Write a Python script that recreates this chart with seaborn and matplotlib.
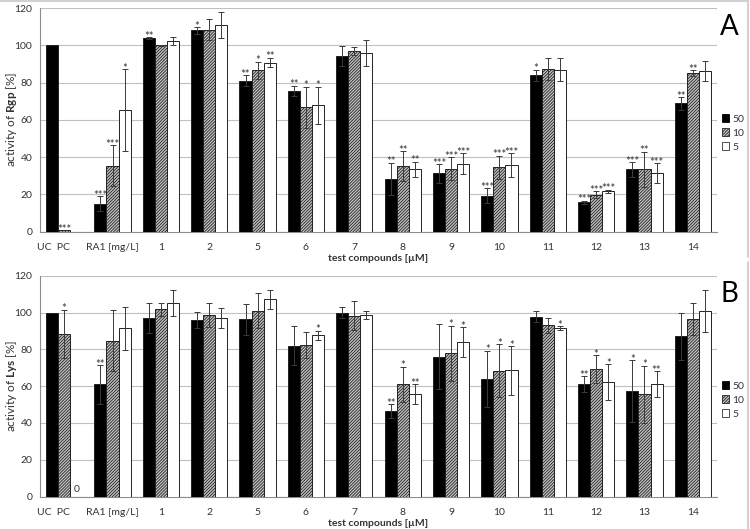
import numpy as np
import pandas as pd
import matplotlib
matplotlib.use("Agg")
import matplotlib.pyplot as plt
import matplotlib.patches as mpatches
from matplotlib.container import BarContainer
from matplotlib.lines import Line2D
import seaborn as sns

# ---------------- data ----------------
groups = ["UC  PC", "RA1 [mg/L]", "1", "2", "5", "6", "7", "8", "9", "10", "11", "12", "13", "14"]
concs = ["50", "10", "5"]

# Panel A: activity of Rgp [%]
rgp_50 = [100, 15, 104, 108, 81, 75.5, 94.2, 28.4, 31.2, 19.3, 83.8, 15.6, 33.3, 68.8]
rgp_10 = [0.6, 35.2, 100.1, 108.3, 86.6, 66.8, 96.9, 35.0, 33.6, 34.4, 87.3, 19.8, 33.3, 85.1]
rgp_5 = [0, 65.1, 102.2, 110.8, 90.7, 67.7, 95.6, 33.5, 36.5, 35.6, 86.9, 21.5, 31.3, 86.2]
rgp_err_50 = [np.nan, 4.0, 0.5, 1.8, 2.8, 2.8, 5.4, 8.6, 5.0, 3.8, 3.0, 1.0, 4.0, 3.3]
rgp_err_10 = [np.nan, 11.0, 0.3, 5.7, 4.5, 11.0, 2.0, 8.0, 6.2, 6.4, 5.7, 2.0, 9.5, 1.6]
rgp_err_5 = [np.nan, 22.0, 2.0, 7.0, 2.6, 10.0, 7.0, 4.0, 5.4, 6.3, 6.0, 1.0, 5.4, 5.6]
rgp_sig_50 = ["", "***", "**", "*", "**", "**", "", "**", "***", "***", "*", "***", "***", "**"]
rgp_sig_10 = ["***", "***", "", "", "*", "*", "", "**", "***", "***", "", "***", "**", "**"]
rgp_sig_5 = ["", "*", "", "", "**", "*", "", "**", "***", "***", "", "***", "***", ""]

# Panel B: activity of Lys [%]
lys_50 = [100, 61, 97, 95.8, 96.2, 81.9, 99.9, 46.5, 76.0, 63.9, 97.7, 61.2, 57.4, 87.1]
lys_10 = [88.5, 84.7, 101.8, 98.6, 101.0, 82.2, 98.2, 61.0, 77.9, 68.4, 93.0, 69.3, 55.6, 96.5]
lys_5 = [0, 91.4, 105.3, 97.2, 107.1, 87.6, 98.6, 55.6, 83.8, 68.6, 91.6, 62.1, 61.0, 100.8]
lys_err_50 = [np.nan, 10.5, 8.0, 4.3, 8.5, 10.5, 3.0, 3.8, 17.7, 15.4, 3.0, 4.3, 16.8, 12.8]
lys_err_10 = [13.0, 16.6, 3.6, 6.3, 9.4, 7.0, 7.8, 9.6, 15.0, 14.3, 4.2, 7.6, 15.4, 8.7]
lys_err_5 = [np.nan, 11.6, 7.0, 5.4, 5.0, 2.5, 2.0, 5.4, 8.1, 13.2, 1.1, 9.8, 7.0, 11.4]
lys_sig_50 = ["", "**", "", "", "", "", "", "**", "", "*", "", "**", "*", ""]
lys_sig_10 = ["*", "", "", "", "", "", "", "*", "*", "*", "", "*", "*", ""]
lys_sig_5 = ["0", "", "", "", "", "*", "", "**", "*", "*", "*", "*", "**", ""]

yticks = [0, 20, 40, 60, 80, 100, 120]

# ---------------- style ----------------
sns.set_theme(style="white")
plt.rcParams["font.family"] = ["Lato", "DejaVu Sans"]
plt.rcParams["mathtext.fontset"] = "custom"
plt.rcParams["mathtext.rm"] = "Lato"
plt.rcParams["mathtext.bf"] = "Lato:bold"
plt.rcParams["hatch.linewidth"] = 0.6

GRID = "#c0c0c0"
AX = "#8c8c8c"
TXT = "#333333"
HATCH = "///////////"

fig = plt.figure(figsize=(7.5, 5.29), dpi=100)
W, H = 750, 529


def fax(x0, y0, x1, y1):
    return fig.add_axes([x0 / W, 1 - y1 / H, (x1 - x0) / W, (y1 - y0) / H])


axA = fax(40, 8, 717, 231.5)
axB = fax(40, 275.7, 717, 496.5)


def panel(ax, v50, v10, v5, e50, e10, e5, s50, s10, s5, ylab, letter, leg_y):
    df = pd.DataFrame({
        "compound": groups * 3,
        "conc": [concs[0]] * len(groups) + [concs[1]] * len(groups) + [concs[2]] * len(groups),
        "value": list(v50) + list(v10) + list(v5),
    })
    sns.barplot(data=df, x="compound", y="value", hue="conc", order=groups,
                hue_order=concs, palette={"50": "black", "10": "#c4c4c4", "5": "white"},
                width=0.75, saturation=1, errorbar=None, edgecolor="#222222",
                linewidth=0.7, legend=False, ax=ax, zorder=3)
    errs = [e50, e10, e5]
    sigs = [s50, s10, s5]
    bar_conts = [c for c in ax.containers if isinstance(c, BarContainer)]
    for k, cont in enumerate(bar_conts):
        for i, bar in enumerate(cont.patches):
            if k == 1:
                bar.set_hatch(HATCH)
            xc = bar.get_x() + bar.get_width() / 2
            h = bar.get_height()
            e = errs[k][i]
            top = h
            if not np.isnan(e):
                ax.errorbar(xc, h, yerr=e, fmt="none", ecolor="#3a3a3a",
                            elinewidth=0.7, capsize=2, capthick=0.7, zorder=4)
                top = h + e
            s = sigs[k][i]
            if s == "0":
                ax.text(xc, h + 1.5, s, ha="center", va="bottom", fontsize=7.5,
                        color=TXT, zorder=5)
            elif s:
                ax.text(xc, top - 2.5, s, ha="center", va="bottom", fontsize=8,
                        color=TXT, zorder=5)

    ax.set_ylim(0, 120)
    ax.set_xlim(-0.5, len(groups) - 0.5)
    ax.set_yticks(yticks)
    ax.set_yticklabels([str(t) for t in yticks], fontsize=7.5, color=TXT)
    pos = list(range(len(groups)))
    pos[0] = -0.22
    ax.set_xticks(pos)
    ax.set_xticklabels(groups, fontsize=7.5, color=TXT)
    ax.set_xticks(np.arange(-0.5, len(groups), 1.0), minor=True)
    ax.tick_params(axis="x", which="major", length=0, pad=8)
    ax.tick_params(axis="x", which="minor", length=3.5, width=0.7, color=AX, direction="out")
    ax.tick_params(axis="y", length=3.5, width=0.7, color=AX, direction="out", pad=2)
    ax.yaxis.grid(True, color=GRID, linewidth=0.8, zorder=0)
    ax.set_axisbelow(True)
    for sp in ["top", "right"]:
        ax.spines[sp].set_visible(False)
    for sp in ["left", "bottom"]:
        ax.spines[sp].set_color(AX)
        ax.spines[sp].set_linewidth(0.8)
    ax.set_ylabel(ylab, fontsize=8.5, color=TXT, va="center")
    ax.yaxis.set_label_coords((12 - 40) / 677, 0.5)
    ax.set_xlabel("test compounds [µM]", fontsize=7.5, fontweight="bold", color=TXT, va="center")
    ax.xaxis.set_label_coords(0.5, -26.5 / ax.bbox.height)
    ax.text(1.005, 0.915, letter, transform=ax.transAxes, fontsize=20, color="black",
            ha="left", va="center")
    handles = [mpatches.Patch(facecolor="black", edgecolor="black", linewidth=0.6),
               mpatches.Patch(facecolor="#c4c4c4", edgecolor="#222222", hatch=HATCH, linewidth=0.6),
               mpatches.Patch(facecolor="white", edgecolor="#333333", linewidth=0.6)]
    fig.legend(handles, concs, loc="center left", bbox_to_anchor=(722 / W, 1 - leg_y / H),
               frameon=False, fontsize=7.5, handlelength=0.7, handleheight=0.7,
               handletextpad=0.3, labelspacing=0.45, borderpad=0, borderaxespad=0,
               labelcolor=TXT)


panel(axA, rgp_50, rgp_10, rgp_5, rgp_err_50, rgp_err_10, rgp_err_5,
      rgp_sig_50, rgp_sig_10, rgp_sig_5, r"activity of $\mathbf{Rgp}$ [%]", "A", 133)
panel(axB, lys_50, lys_10, lys_5, lys_err_50, lys_err_10, lys_err_5,
      lys_sig_50, lys_sig_10, lys_sig_5, r"activity of $\mathbf{Lys}$ [%]", "B", 400)

# light chart frame lines
fig.add_artist(Line2D([0, 748 / W], [1 - 0.5 / H, 1 - 0.5 / H], color="#c8c8c8",
                      linewidth=1.2, transform=fig.transFigure))
for (y0, y1) in [(0.5, 257), (262, 529)]:
    fig.add_artist(Line2D([748 / W, 748 / W], [1 - y0 / H, 1 - y1 / H], color="#c8c8c8",
                          linewidth=1.2, transform=fig.transFigure))

fig.savefig("out.png", dpi=100)
